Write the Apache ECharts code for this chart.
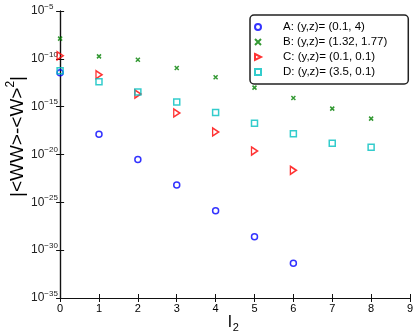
<!DOCTYPE html>
<html>
<head>
<meta charset="utf-8">
<script src="https://cdn.jsdelivr.net/npm/echarts@6/dist/echarts.min.js"></script>
<style>
  html, body { margin: 0; padding: 0; background: #fff; }
  #chart { width: 415px; height: 336px; }
</style>
</head>
<body>
<div id="chart"></div>
<script>
// l2 values
const l2Short = [0, 1, 2, 3, 4, 5, 6];
const l2Long = [0, 1, 2, 3, 4, 5, 6, 7, 8];
const xTicks = [0, 1, 2, 3, 4, 5, 6, 7, 8, 9];
const yTicks = [1e-35, 1e-30, 1e-25, 1e-20, 1e-15, 1e-10, 1e-5];
// |<WW> - <W>^2|
const seriesA = [3.5e-12, 1.3e-18, 3.0e-21, 6.6e-24, 1.3e-26, 2.6e-29, 4.3e-32];
const seriesB = [1.3e-8, 1.8e-10, 8.1e-11, 1.1e-11, 1.2e-12, 9.8e-14, 8.1e-15, 6.2e-16, 5.6e-17];
const seriesC = [2.1e-10, 2.2e-12, 2.1e-14, 2.2e-16, 2.3e-18, 2.3e-20, 2.2e-22];
const seriesD = [5.8e-12, 4.1e-13, 3.5e-14, 3.1e-15, 2.4e-16, 1.8e-17, 1.5e-18, 1.5e-19, 5.6e-20];
const names = ['A: (y,z)= (0.1, 4)', 'B: (y,z)= (1.32, 1.77)', 'C: (y,z)= (0.1, 0.1)', 'D: (y,z)= (3.5, 0.1)'];

function pairs(xs, ys) {
  return ys.map((v, i) => [xs[i], v]);
}

const chart = echarts.init(document.getElementById('chart'));

const frameLine = { show: true, lineStyle: { color: '#111', width: 1.2 } };
const crossPath = 'path://M0,0L10,10M10,0L0,10';
const rightTriangle = 'path://M0,0L10,5L0,10Z';

const xBase = {
  type: 'value',
  min: -0.08,
  max: 9,
  splitLine: { show: false },
  axisLine: frameLine,
  axisTick: { show: true, inside: true, length: 4, customValues: xTicks, lineStyle: { color: '#111', width: 1 } }
};
const yBase = {
  type: 'log',
  logBase: 10,
  min: 1e-35,
  max: 1e-5,
  splitLine: { show: false },
  minorTick: { show: false },
  axisLine: frameLine,
  axisTick: { show: true, inside: true, length: 4, customValues: yTicks, lineStyle: { color: '#111', width: 1 } }
};

const option = {
  animation: false,
  backgroundColor: '#fff',
  grid: { left: 57, right: 5, top: 11, bottom: 38, containLabel: false, outerBoundsMode: 'none' },
  legend: {
    orient: 'vertical',
    left: 250,
    top: 15,
    width: 140,
    padding: [5, 21, 5, 4],
    itemGap: 1,
    itemWidth: 6,
    itemHeight: 6,
    backgroundColor: '#fff',
    borderColor: '#222',
    borderWidth: 1.5,
    borderRadius: 4,
    textStyle: { fontFamily: 'Liberation Sans', fontSize: 11.5, color: '#000', padding: [0, 0, 0, 17], lineHeight: 14 },
    data: [
      { name: names[0] },
      { name: names[1] },
      { name: names[2], icon: rightTriangle },
      { name: names[3] }
    ]
  },
  xAxis: [
    Object.assign({}, xBase, {
      position: 'bottom',
      name: '{l|l}{s|2}',
      nameLocation: 'middle',
      nameGap: 14,
      nameMoveOverlap: false,
      nameTextStyle: {
        rich: {
          l: { fontFamily: 'Liberation Sans', fontSize: 17, color: '#000' },
          s: { fontFamily: 'Liberation Sans', fontSize: 11, color: '#000', padding: [10, 0, 0, 1] }
        }
      },
      axisLabel: {
        margin: 5,
        fontFamily: 'Liberation Sans',
        fontSize: 11,
        color: '#000',
        customValues: xTicks
      }
    }),
    Object.assign({}, xBase, { position: 'top', axisLabel: { show: false } })
  ],
  yAxis: [
    Object.assign({}, yBase, {
      position: 'left',
      name: '{t||<WW>-<W>}{s|2}{t||}',
      nameLocation: 'middle',
      nameGap: 27,
      nameMoveOverlap: false,
      nameTextStyle: {
        padding: [0, 0, 0, 36],
        rich: {
          t: { fontFamily: 'Liberation Sans', fontSize: 19, color: '#000' },
          s: { fontFamily: 'Liberation Sans', fontSize: 12, color: '#000', padding: [0, 0, 13, 0] }
        }
      },
      axisLabel: {
        margin: 26,
        align: 'left',
        customValues: yTicks,
        formatter: v => '{b|10}{s|−' + Math.round(-Math.log10(v)) + '}',
        rich: {
          b: { fontFamily: 'Liberation Sans', fontSize: 12, color: '#222' },
          s: { fontFamily: 'Liberation Sans', fontSize: 8, color: '#222', padding: [0, 0, 9, 0] }
        }
      }
    }),
    Object.assign({}, yBase, { position: 'right', axisLabel: { show: false } })
  ],
  series: [
    {
      name: names[0], type: 'scatter', data: pairs(l2Short, seriesA),
      symbol: 'circle', symbolSize: 6,
      itemStyle: { color: 'rgba(0,0,0,0)', borderColor: '#0000ff', borderWidth: 1.5 }
    },
    {
      name: names[1], type: 'scatter', data: pairs(l2Long, seriesB),
      symbol: crossPath, symbolSize: 4,
      itemStyle: { color: 'rgba(0,0,0,0)', borderColor: '#008000', borderWidth: 1.5 }
    },
    {
      name: names[2], type: 'scatter', data: pairs(l2Short, seriesC),
      symbol: rightTriangle, symbolSize: [6, 8],
      itemStyle: { color: 'rgba(0,0,0,0)', borderColor: '#ff0000', borderWidth: 1.5 }
    },
    {
      name: names[3], type: 'scatter', data: pairs(l2Long, seriesD),
      symbol: 'rect', symbolSize: 6,
      itemStyle: { color: 'rgba(0,0,0,0)', borderColor: '#00bfbf', borderWidth: 1.5 }
    }
  ]
};

chart.setOption(option);
</script>
</body>
</html>
